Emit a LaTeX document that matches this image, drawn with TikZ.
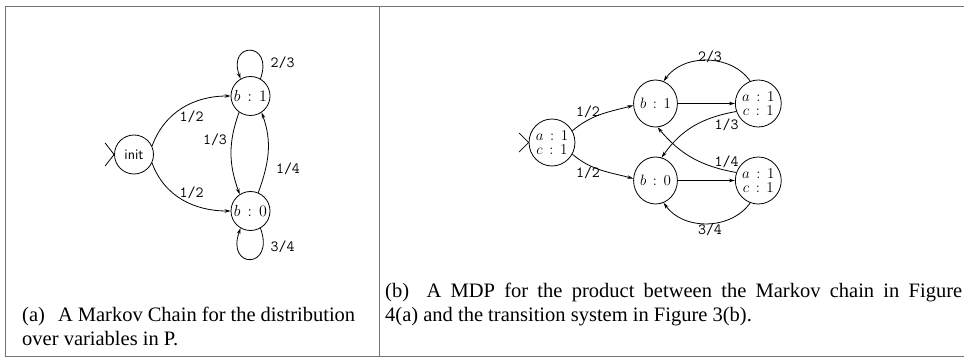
\RequirePackage{fix-cm}
\documentclass[tikz,border=0pt]{standalone}
\usepackage{fontspec}
\newfontfamily\capfont{Liberation Serif}
\usetikzlibrary{arrows.meta,shapes.geometric}

\begin{document}
\begin{tikzpicture}[x=1pt, y=1pt, >={Stealth[length=6pt,width=3.6pt]},
    state/.style={draw, circle, line width=0.8pt, minimum size=39pt, inner sep=0pt, font=\fontsize{16}{16}\selectfont},
    pstate/.style={draw, ellipse, line width=0.8pt, minimum width=41pt, minimum height=47pt, inner sep=0pt, align=center, font=\fontsize{15}{14.5}\selectfont},
    edge/.style={->, line width=0.8pt},
    prob/.style={inner sep=0pt, font=\fontsize{15.5}{15.5}\selectfont\ttfamily},
    capline/.style={anchor=base west, inner sep=0pt, font=\fontsize{20.5}{24}\capfont},
    frame/.style={draw=black!55, line width=1.3pt}]
    \useasboundingbox (0,0) rectangle (964,-358);

    % panel frame
    \draw[frame] (964,-6.5) -- (5.5,-6.5) -- (5.5,-356.5) -- (964,-356.5);
    \draw[frame] (379.5,-6.5) -- (379.5,-356.5);

    % (a) Markov chain
    \node[state, font=\fontsize{14.5}{14.5}\sffamily] (init) at (134,-154.5) {init};
    \node[state] (b1) at (250.5,-96) {$b\,:\,1$};
    \node[state] (b0) at (250.5,-211) {$b\,:\,0$};

    \draw[line width=0.8pt] (init.west) ++(-9,11.5) -- (init.west) -- ++(-9,-11.5);

    \draw[edge] (init.25) to[out=70, in=180] (b1.west);
    \draw[edge] (init.-25) to[out=-70, in=180] (b0.west);
    \draw[edge] (b1.235) to[out=250, in=110] (b0.123);
    \draw[edge] (b0.67) to[out=70, in=-70] (b1.-56);
    \draw[edge] (b1.60) .. controls +(70:40) and +(110:40) .. (b1.120);
    \draw[edge] (b0.-60) .. controls +(-70:44) and +(-110:44) .. (b0.-120);

    \node[prob] (pa1) at (191.7,-116.7) {1/2};
    \node[prob] (pa2) at (191.7,-193) {1/2};
    \node[prob] (pa3) at (215,-140) {1/3};
    \node[prob] (pa4) at (288,-169) {1/4};
    \node[prob] (pa5) at (282.7,-63) {2/3};
    \node[prob] (pa6) at (282.7,-246.7) {3/4};

    \node[capline] (capa1) at (22,-321) {\makebox[333pt][s]{(a)\hspace{0.4em} A Markov Chain for the distribution}};
    \node[capline] (capa2) at (22,-345) {over variables in P.};

    % (b) MDP for the product
    \node[pstate] (ac0) at (552,-142.5) {$a\,:\,1$\\$c\,:\,1$};
    \node[pstate] (b1r) at (655.5,-103.5) {$b\,:\,1$};
    \node[pstate] (b0r) at (655.5,-180.5) {$b\,:\,0$};
    \node[pstate] (ac1) at (758.3,-103.5) {$a\,:\,1$\\$c\,:\,1$};
    \node[pstate] (ac2) at (758.3,-180.5) {$a\,:\,1$\\$c\,:\,1$};

    \draw[line width=0.8pt] (ac0.west) ++(-9.5,9.5) -- (ac0.west) -- ++(-9.5,-9.5);

    \draw[edge] (ac0.30) to[out=40, in=195] (b1r.185);
    \draw[edge] (ac0.-30) to[out=-40, in=165] (b0r.175);
    \draw[edge, line width=1.3pt] (b1r) -- (ac1);
    \draw[edge] (b0r) -- (ac2);
    \draw[edge] (ac1.200) to[out=190, in=55] (b0r.75);
    \draw[edge] (ac2.160) to[out=170, in=-50] (b1r.-85);
    \draw[edge] (ac1.110) to[out=125, in=55] (b1r.70);
    \draw[edge] (ac2.-110) to[out=-125, in=-55] (b0r.-70);

    \node[prob] (pb1) at (588,-112) {1/2};
    \node[prob] (pb2) at (588,-173) {1/2};
    \node[prob] (pb3) at (726.7,-125) {1/3};
    \node[prob] (pb4) at (726.7,-162) {1/4};
    \node[prob] (pb5) at (710,-57) {2/3};
    \node[prob] (pb6) at (710,-230) {3/4};

    \node[capline] (capb1) at (385,-297) {\makebox[577pt][s]{(b)\hspace{0.4em} A MDP for the product between the Markov chain in Figure}};
    \node[capline] (capb2) at (385,-321) {4(a) and the transition system in Figure 3(b).};
\end{tikzpicture}
\end{document}
